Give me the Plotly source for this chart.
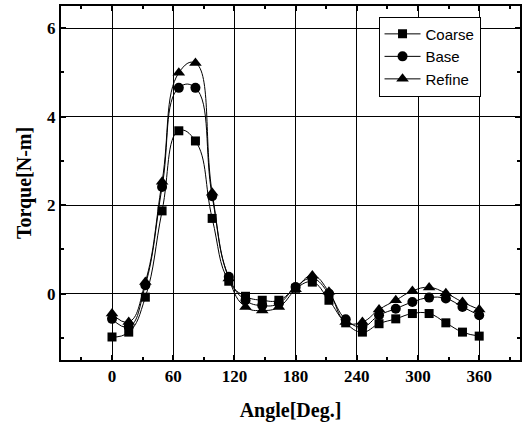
import plotly.graph_objects as go

angle = [0, 16.4, 32.7, 49.1, 65.5, 81.8, 98.2, 114.5, 130.9, 147.3, 163.6, 180,
         196.4, 212.7, 229.1, 245.5, 261.8, 278.2, 294.5, 310.9, 327.3, 343.6, 360]
coarse = [-0.98, -0.87, -0.08, 1.87, 3.68, 3.45, 1.70, 0.28, -0.06, -0.15, -0.15, 0.12,
          0.26, -0.15, -0.66, -0.87, -0.68, -0.57, -0.45, -0.45, -0.66, -0.87, -0.96]
base = [-0.57, -0.75, 0.19, 2.41, 4.65, 4.65, 2.20, 0.38, -0.15, -0.27, -0.22, 0.15,
        0.34, 0.0, -0.58, -0.75, -0.49, -0.34, -0.19, -0.09, -0.11, -0.30, -0.49]
refine = [-0.45, -0.64, 0.26, 2.53, 4.99, 5.21, 2.28, 0.34, -0.30, -0.38, -0.30, 0.10,
          0.41, 0.04, -0.64, -0.64, -0.36, -0.15, 0.06, 0.14, 0.01, -0.19, -0.36]

series = [("Coarse", coarse, "square", 9), ("Base", base, "circle", 10), ("Refine", refine, "triangle-up", 11)]

fig = go.Figure()
for name, vals, sym, sz in series:
    fig.add_trace(go.Scatter(
        x=angle, y=vals, name=name, mode="lines+markers",
        line=dict(color="black", width=1, shape="spline", smoothing=1.3),
        marker=dict(symbol=sym, size=sz, color="black"),
    ))

tickfont = dict(family="Liberation Serif", size=17, color="black", weight="bold")
axis_common = dict(
    showline=True, linecolor="black", linewidth=2, mirror="ticks",
    ticks="inside", ticklen=5, tickwidth=2, tickcolor="black",
    showgrid=True, gridcolor="black", gridwidth=1, zeroline=False,
    tickfont=tickfont,
)
fig.update_xaxes(
    range=[-50, 400], tick0=0, dtick=60,
    minor=dict(dtick=30, tick0=0, ticks="inside", ticklen=3, tickwidth=2, tickcolor="black", showgrid=False),
    title=dict(text="<b>Angle[Deg.]</b>", font=dict(family="Liberation Serif", size=20, color="black"), standoff=18),
    **axis_common,
)
fig.update_yaxes(
    range=[-1.5, 6.5], tick0=0, dtick=2,
    minor=dict(dtick=1, tick0=0, ticks="inside", ticklen=3, tickwidth=2, tickcolor="black", showgrid=False),
    title=dict(text="<b>Torque[N-m]</b>", font=dict(family="Liberation Serif", size=20, color="black"), standoff=10),
    **axis_common,
)
fig.update_layout(
    width=525, height=425,
    margin=dict(l=61, r=3, t=6, b=65),
    plot_bgcolor="white", paper_bgcolor="white",
    legend=dict(
        x=0.914, xanchor="right", y=0.97, yanchor="top",
        bgcolor="white", bordercolor="black", borderwidth=1,
        font=dict(family="Liberation Sans", size=15, color="black"),
        tracegroupgap=0, itemwidth=36,
    ),
)
fig.write_html("out.html", config={"displayModeBar": False},
               post_script="document.body.style.margin='0';document.body.style.overflow='hidden';")
